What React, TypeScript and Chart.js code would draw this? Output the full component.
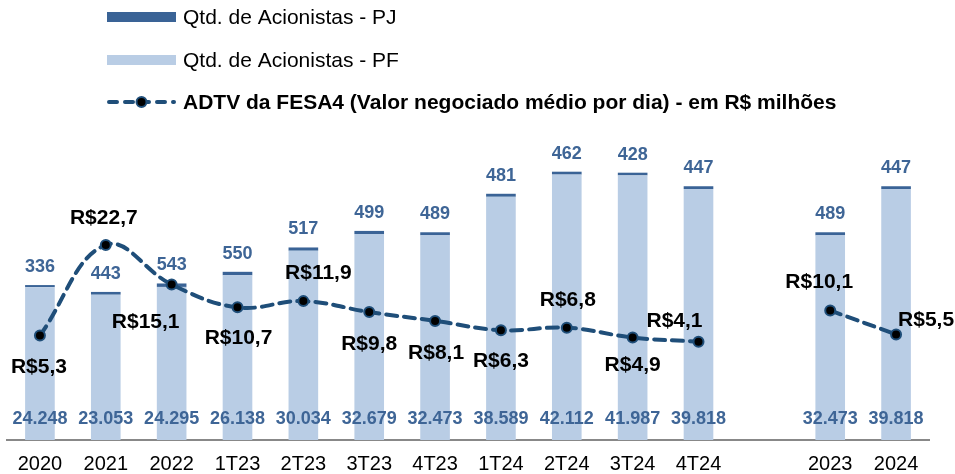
import React, { useEffect, useRef } from "react";
import { Chart, registerables } from "chart.js";

Chart.register(...registerables);

const categories = ["2020", "2021", "2022", "1T23", "2T23", "3T23", "4T23", "1T24", "2T24", "3T24", "4T24", "", "2023", "2024"];
const pfValues = [24248, 23053, 24295, 26138, 30034, 32679, 32473, 38589, 42112, 41987, 39818, null, 32473, 39818];
const pjValues = [336, 443, 543, 550, 517, 499, 489, 481, 462, 428, 447, null, 489, 447];
const adtvValues = [5.3, 22.7, 15.1, 10.7, 11.9, 9.8, 8.1, 6.3, 6.8, 4.9, 4.1, null, 10.1, 5.5];

const legendLabels = [
  "Qtd. de Acionistas - PJ",
  "Qtd. de Acionistas - PF",
  "ADTV da FESA4 (Valor negociado médio por dia) - em R$ milhões",
];

// label placement offsets (styling) for the ADTV labels, [dx, dy] from the point
const adtvLabelOffsets: [number, number][] = [
  [-1, 32], [-2, -27], [-26, 38], [1, 31], [15, -28], [0, 32], [1, 32], [0, 31], [1, -27], [0, 28], [-24, -20], [0, 0], [-11, -28], [30, -14],
];

const PF_COLOR = "#B9CDE5";
const PJ_COLOR = "#3A6396";
const LABEL_BLUE = "#3E6596";
const LINE_COLOR = "#1F4E79";
const FONT = "'Liberation Sans', Arial, sans-serif";

function fmtThousands(v: number): string {
  const s = Math.round(v).toString();
  return s.replace(/\B(?=(\d{3})+(?!\d))/g, ".");
}
function fmtMoney(v: number): string {
  return "R$" + v.toFixed(1).replace(".", ",");
}

const labelsPlugin = {
  id: "customLabels",
  afterDatasetsDraw(chart: any) {
    const ctx = chart.ctx;
    const area = chart.chartArea;
    ctx.save();
    ctx.textAlign = "center";
    ctx.textBaseline = "middle";
    const pfMeta = chart.getDatasetMeta(0);
    ctx.font = `bold 18px ${FONT}`;
    ctx.fillStyle = LABEL_BLUE;
    pfMeta.data.forEach((el: any, i: number) => {
      const v = pfValues[i];
      if (v == null) return;
      ctx.fillText(fmtThousands(v), el.x, area.bottom - 21);
    });
    const pjMeta = chart.getDatasetMeta(1);
    pjMeta.data.forEach((el: any, i: number) => {
      const v = pjValues[i];
      if (v == null) return;
      ctx.fillText(fmtThousands(v), el.x, el.y - 18);
    });
    const lineMeta = chart.getDatasetMeta(2);
    ctx.font = `bold 21px ${FONT}`;
    ctx.fillStyle = "#000";
    lineMeta.data.forEach((el: any, i: number) => {
      const v = adtvValues[i];
      if (v == null) return;
      const [dx, dy] = adtvLabelOffsets[i];
      ctx.fillText(fmtMoney(v), el.x + dx, el.y + dy);
    });
    ctx.restore();
  },
};

const legendPlugin = {
  id: "customLegend",
  afterDraw(chart: any) {
    const ctx = chart.ctx;
    ctx.save();
    const x0 = 107;
    const x1 = 176;
    const tx = 183;
    const rows = [17, 60, 102];
    ctx.textBaseline = "middle";
    ctx.textAlign = "left";
    ctx.fillStyle = PJ_COLOR;
    ctx.fillRect(x0, rows[0] - 5, x1 - x0, 10);
    ctx.fillStyle = PF_COLOR;
    ctx.fillRect(x0, rows[1] - 5, x1 - x0, 10);
    ctx.strokeStyle = LINE_COLOR;
    ctx.lineWidth = 4;
    ctx.lineCap = "round";
    ctx.setLineDash([8, 8]);
    ctx.beginPath();
    ctx.moveTo(x0 + 2, rows[2]);
    ctx.lineTo(x1 - 2, rows[2]);
    ctx.stroke();
    ctx.setLineDash([]);
    ctx.beginPath();
    ctx.arc((x0 + x1) / 2, rows[2], 5, 0, Math.PI * 2);
    ctx.fillStyle = "#000";
    ctx.fill();
    ctx.lineWidth = 2;
    ctx.strokeStyle = LINE_COLOR;
    ctx.stroke();

    ctx.fillStyle = "#000";
    ctx.font = `21px ${FONT}`;
    ctx.fillText(legendLabels[0], tx, rows[0] + 1);
    ctx.fillText(legendLabels[1], tx, rows[1] + 1);
    ctx.font = `bold 21px ${FONT}`;
    ctx.fillText(legendLabels[2], tx, rows[2] + 1);
    ctx.restore();
  },
};

export default function App() {
  const canvasRef = useRef<HTMLCanvasElement | null>(null);

  useEffect(() => {
    document.body.style.margin = "0";
    const canvas = canvasRef.current;
    if (!canvas) return;
    const chart = new Chart(canvas, {
      type: "bar",
      data: {
        labels: categories,
        datasets: [
          {
            type: "bar",
            label: legendLabels[1],
            data: pfValues,
            backgroundColor: PF_COLOR,
            yAxisID: "y",
            stack: "s",
            order: 2,
            categoryPercentage: 1,
            barPercentage: 0.45,
          },
          {
            type: "bar",
            label: legendLabels[0],
            data: pjValues,
            backgroundColor: PJ_COLOR,
            yAxisID: "y",
            stack: "s",
            order: 2,
            categoryPercentage: 1,
            barPercentage: 0.45,
          },
          {
            type: "line",
            label: legendLabels[2],
            data: adtvValues,
            yAxisID: "y2",
            order: 0,
            borderColor: LINE_COLOR,
            borderWidth: 4,
            borderDash: [11, 7],
            borderCapStyle: "round",
            tension: 0.4,
            spanGaps: false,
            pointRadius: 5,
            pointBackgroundColor: "#000",
            pointBorderColor: LINE_COLOR,
            pointBorderWidth: 2,
            fill: false,
          },
        ],
      } as any,
      options: {
        responsive: false,
        animation: false,
        layout: { padding: { top: 130, left: 5, right: 26, bottom: 0 } },
        plugins: {
          legend: { display: false },
          tooltip: { enabled: false },
        },
        scales: {
          x: {
            stacked: true,
            grid: { display: false, drawTicks: false },
            border: { display: true, color: "#888888", width: 2 },
            ticks: {
              color: "#000",
              font: { family: FONT, size: 20, lineHeight: 1 },
              padding: 14,
              maxRotation: 0,
              autoSkip: false,
            },
            afterFit(scale: any) {
              scale.height = 34;
            },
          },
          y: {
            stacked: true,
            display: false,
            min: 0,
            max: 49190,
          },
          y2: {
            display: false,
            min: -14.8,
            max: 44.8,
          },
        },
      } as any,
      plugins: [labelsPlugin, legendPlugin],
    });
    return () => chart.destroy();
  }, []);

  return (
    <div style={{ width: 955, height: 474 }}>
      <canvas ref={canvasRef} width={955} height={474} style={{ display: "block" }} />
    </div>
  );
}
